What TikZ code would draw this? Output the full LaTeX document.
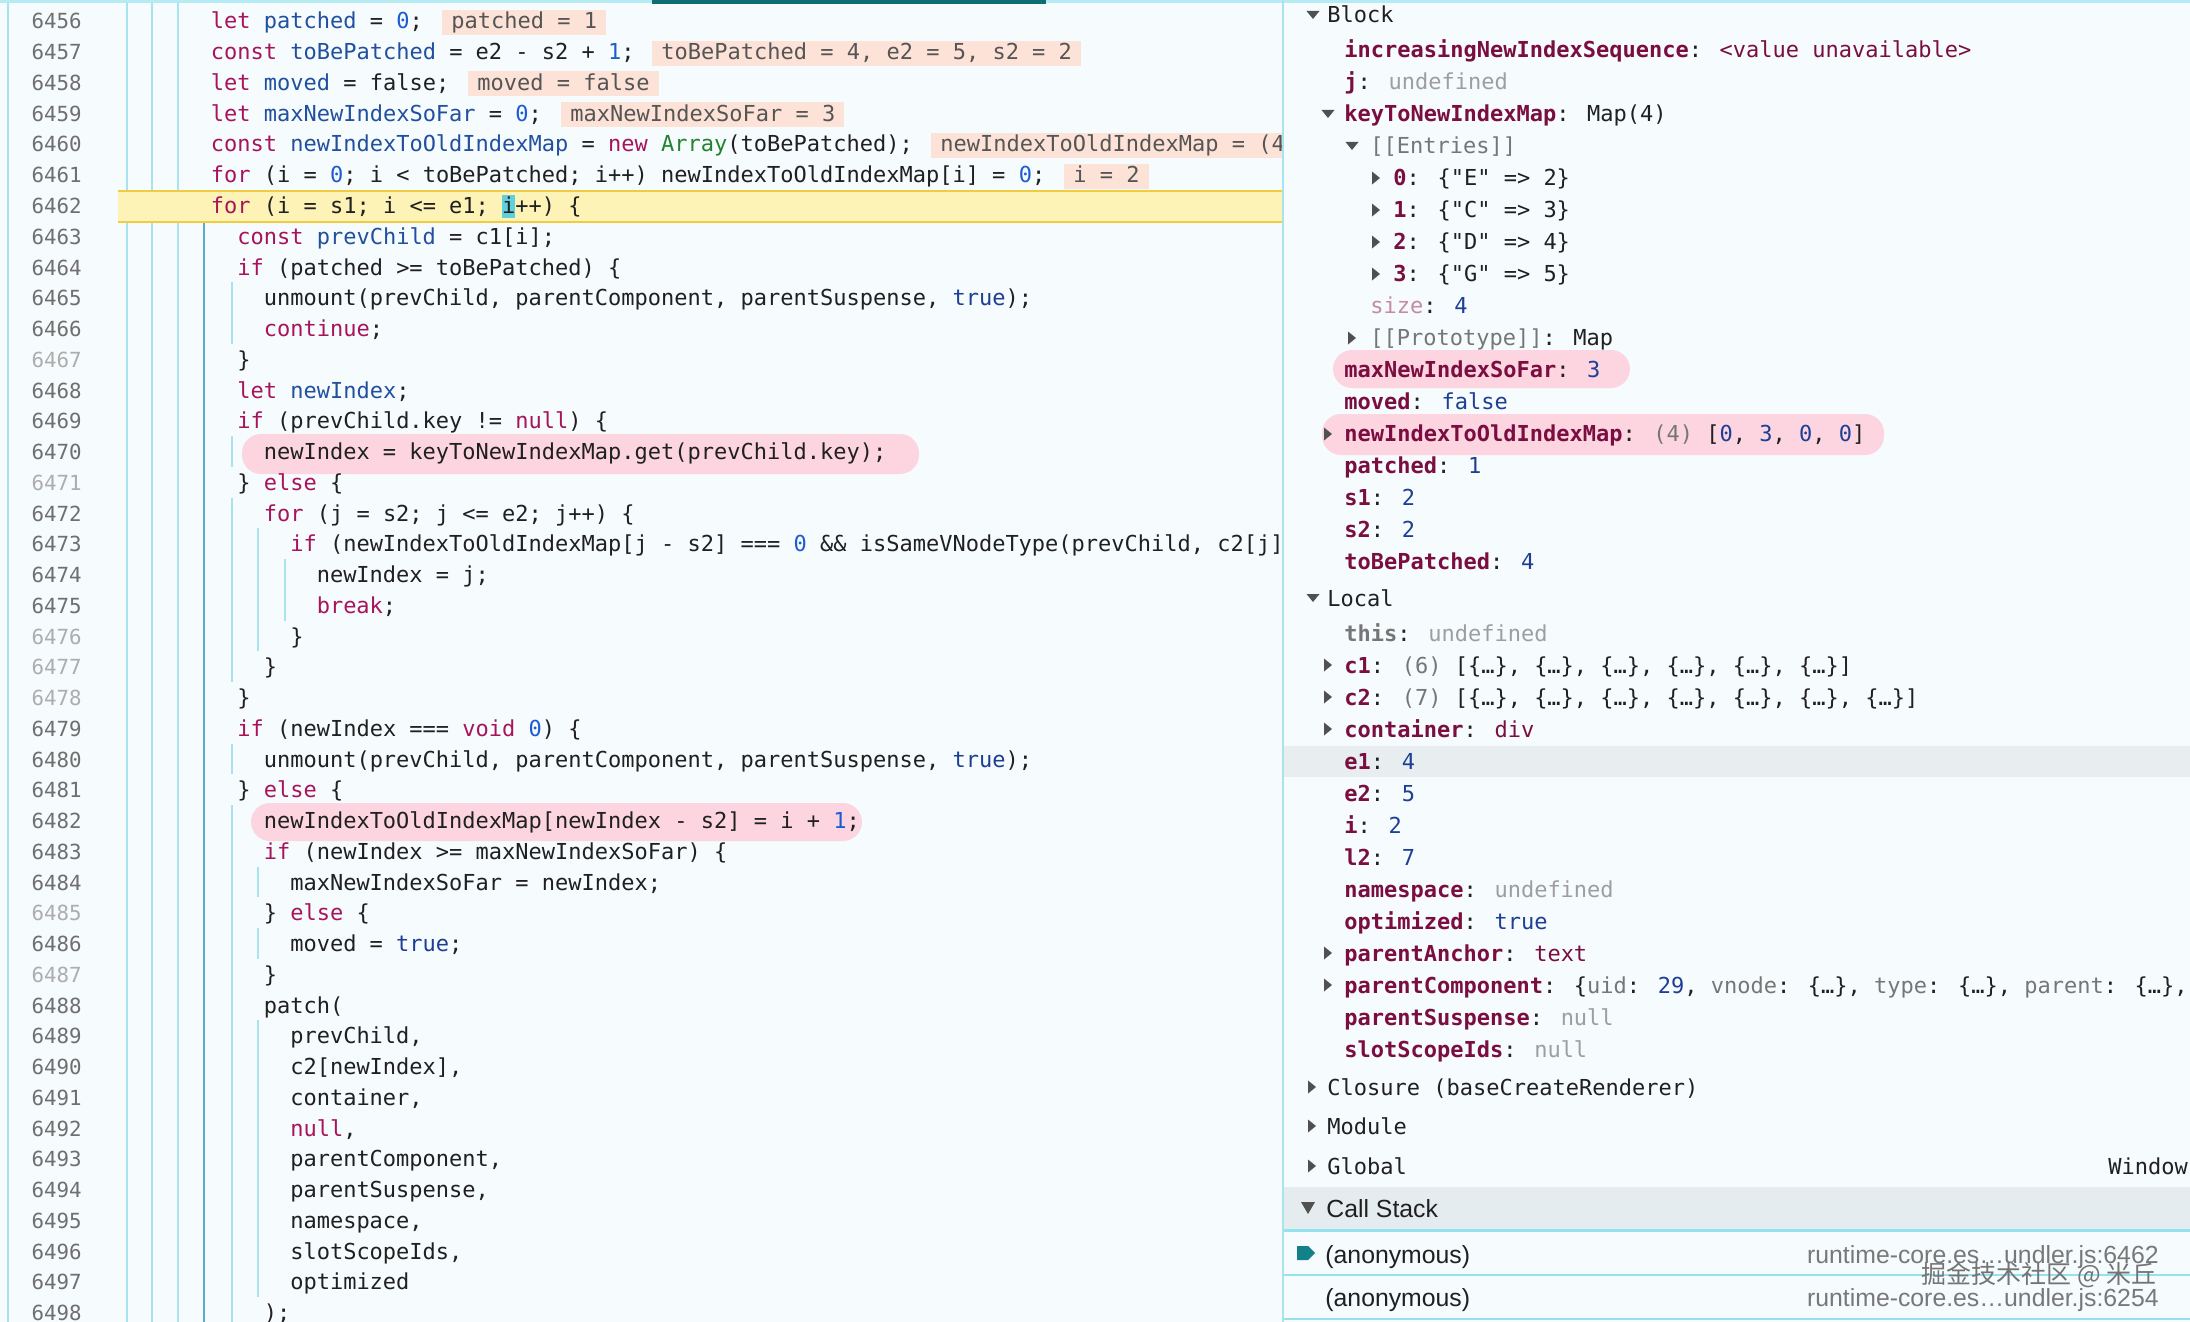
\documentclass[tikz,border=0pt]{standalone}
\usepackage{fontspec}
\setmainfont{Liberation Sans}
\newfontfamily\codefont{DejaVu Sans Mono}
\newfontfamily\cjkfont{Noto Sans CJK SC}

\definecolor{panelbg}{HTML}{F6FBFD}
\definecolor{guidecol}{HTML}{A9E4EE}
\definecolor{guideact}{HTML}{5AAFC4}
\definecolor{topcol}{HTML}{B5EBF3}
\definecolor{tabcol}{HTML}{0E6E72}
\definecolor{yelfill}{HTML}{FDF3B6}
\definecolor{yelline}{HTML}{EFCC40}
\definecolor{curcol}{HTML}{5FD0DC}
\definecolor{kwcol}{HTML}{A8145C}
\definecolor{defcol}{HTML}{20509E}
\definecolor{numcol}{HTML}{1C5BD3}
\definecolor{grncol}{HTML}{23832F}
\definecolor{trucol}{HTML}{1D3E93}
\definecolor{txtcol}{HTML}{202020}
\definecolor{lnumcol}{HTML}{6F6F6F}
\definecolor{lnumlt}{HTML}{ADADAD}
\definecolor{inlbg}{HTML}{FDE3D7}
\definecolor{inltxt}{HTML}{555555}
\definecolor{pinkhl}{HTML}{FCD5E1}
\definecolor{keycol}{HTML}{7A0E40}
\definecolor{valcol}{HTML}{1D3F95}
\definecolor{grycol}{HTML}{767676}
\definecolor{ltcol}{HTML}{9E9E9E}
\definecolor{sizecol}{HTML}{C48BA3}
\definecolor{tricol}{HTML}{505050}
\definecolor{rowgray}{HTML}{E8EEF0}
\definecolor{hdrgray}{HTML}{E5ECEF}
\definecolor{sepcol}{HTML}{94E2EC}
\definecolor{arrcol}{HTML}{13808A}
\definecolor{rtgray}{HTML}{787878}
\definecolor{wmgray}{HTML}{747474}

\newcommand\tkw[1]{\textcolor{kwcol}{#1}}
\newcommand\tdef[1]{\textcolor{defcol}{#1}}
\newcommand\tnum[1]{\textcolor{numcol}{#1}}
\newcommand\tgrn[1]{\textcolor{grncol}{#1}}
\newcommand\ttru[1]{\textcolor{trucol}{#1}}
\newcommand\rkey[1]{\textcolor{keycol}{\bfseries #1}}
\newcommand\rval[1]{\textcolor{valcol}{#1}}
\newcommand\rgry[1]{\textcolor{grycol}{#1}}
\newcommand\rlt[1]{\textcolor{ltcol}{#1}}
\newcommand\rmar[1]{\textcolor{keycol}{#1}}

\newcommand\codeline[4][lnumcol]{%
  \node[lnum,text=#1] (n#2) at (82,{29+30.75*(#2-6456)}) {#2};
  \node[code] (c#2) at ({131+13.24*#3},{29+30.75*(#2-6456)}) {#4};}
\newcommand\guide[3]{\draw[guidecol,line width=0.7pt] (#1,{5.6+30.75*(#2-6456)}) -- (#1,{36.4+30.75*(#3-6456)});}
\newcommand\tdown[2]{\fill[tricol] (#1-6.5,#2-4) -- (#1+6.5,#2-4) -- (#1,#2+4) -- cycle;}
\newcommand\tright[2]{\fill[tricol] (#1-4,#2-6.5) -- (#1+4,#2) -- (#1-4,#2+6.5) -- cycle;}

\begin{document}
\begin{tikzpicture}[x=0.5pt,y=-0.5pt,
  code/.style={anchor=base west,inner sep=0,font=\codefont\fontsize{11}{13}\selectfont,text=txtcol},
  lnum/.style={anchor=base east,inner sep=0,font=\codefont\fontsize{10.4}{12}\selectfont},
  inl/.style={anchor=base west,fill=inlbg,text=inltxt,inner xsep=4.5pt,inner ysep=0.4pt,text height=9.1pt,text depth=2.5pt,font=\codefont\fontsize{11}{13}\selectfont},
  sans/.style={anchor=base west,inner sep=0,font=\fontsize{12.4}{14}\selectfont,text=txtcol},
  pill/.style={fill=pinkhl,rounded corners=9.5pt}]
\useasboundingbox (0,0) rectangle (2190,1322);
\fill[panelbg] (0,0) rectangle (2190,1322);

\begin{scope}
\clip (0,0) rectangle (1282,1322);
\foreach \gx in {8,127,152,178}
  \draw[guidecol,line width=0.7pt] (\gx,0) -- (\gx,1322);
\draw[guideact,line width=0.9pt] (204,222) -- (204,1322);
\foreach \gx/\ga/\gb in {232/6465/6466,232/6470/6470,232/6472/6477,232/6480/6480,232/6482/6498,
  258/6473/6476,258/6484/6484,258/6486/6486,258/6489/6497,285/6474/6475}
  \guide{\gx}{\ga}{\gb}
\fill[yelfill] (118,191) rectangle (1282,222);
\draw[yelline,line width=1pt] (118,191) -- (1282,191) (118,222) -- (1282,222);
\fill[curcol] (501.5,195) rectangle (514.5,218);
\fill[pill] (242,434) rectangle (919,474);
\fill[pill] (251,803) rectangle (862,841);

\node[inl] (v6456) at (442,29) {patched = 1};
\node[inl] (v6457) at (652,59.75) {toBePatched = 4, e2 = 5, s2 = 2};
\node[inl] (v6458) at (468,90.5) {moved = false};
\node[inl] (v6459) at (561,121.25) {maxNewIndexSoFar = 3};
\node[inl] (v6460) at (931,152) {newIndexToOldIndexMap = (4};
\node[inl] (v6461) at (1064,182.75) {i = 2};

\codeline{6456}{6}{\tkw{let} \tdef{patched} = \tnum{0};}
\codeline{6457}{6}{\tkw{const} \tdef{toBePatched} = e2 - s2 + \tnum{1};}
\codeline{6458}{6}{\tkw{let} \tdef{moved} = false;}
\codeline{6459}{6}{\tkw{let} \tdef{maxNewIndexSoFar} = \tnum{0};}
\codeline{6460}{6}{\tkw{const} \tdef{newIndexToOldIndexMap} = \tkw{new} \tgrn{Array}(toBePatched);}
\codeline{6461}{6}{\tkw{for} (i = \tnum{0}; i < toBePatched; i++) newIndexToOldIndexMap[i] = \tnum{0};}
\codeline{6462}{6}{\tkw{for} (i = s1; i <= e1; i++) \{}
\codeline{6463}{8}{\tkw{const} \tdef{prevChild} = c1[i];}
\codeline{6464}{8}{\tkw{if} (patched >= toBePatched) \{}
\codeline{6465}{10}{unmount(prevChild, parentComponent, parentSuspense, \ttru{true});}
\codeline{6466}{10}{\tkw{continue};}
\codeline[lnumlt]{6467}{8}{\}}
\codeline{6468}{8}{\tkw{let} \tdef{newIndex};}
\codeline{6469}{8}{\tkw{if} (prevChild.key != \tkw{null}) \{}
\codeline{6470}{10}{newIndex = keyToNewIndexMap.get(prevChild.key);}
\codeline[lnumlt]{6471}{8}{\} \tkw{else} \{}
\codeline{6472}{10}{\tkw{for} (j = s2; j <= e2; j++) \{}
\codeline{6473}{12}{\tkw{if} (newIndexToOldIndexMap[j - s2] === \tnum{0} \&\& isSameVNodeType(prevChild, c2[j]}
\codeline{6474}{14}{newIndex = j;}
\codeline{6475}{14}{\tkw{break};}
\codeline[lnumlt]{6476}{12}{\}}
\codeline[lnumlt]{6477}{10}{\}}
\codeline[lnumlt]{6478}{8}{\}}
\codeline{6479}{8}{\tkw{if} (newIndex === \tkw{void} \tnum{0}) \{}
\codeline{6480}{10}{unmount(prevChild, parentComponent, parentSuspense, \ttru{true});}
\codeline{6481}{8}{\} \tkw{else} \{}
\codeline{6482}{10}{newIndexToOldIndexMap[newIndex - s2] = i + \tnum{1};}
\codeline{6483}{10}{\tkw{if} (newIndex >= maxNewIndexSoFar) \{}
\codeline{6484}{12}{maxNewIndexSoFar = newIndex;}
\codeline[lnumlt]{6485}{10}{\} \tkw{else} \{}
\codeline{6486}{12}{moved = \ttru{true};}
\codeline[lnumlt]{6487}{10}{\}}
\codeline{6488}{10}{patch(}
\codeline{6489}{12}{prevChild,}
\codeline{6490}{12}{c2[newIndex],}
\codeline{6491}{12}{container,}
\codeline{6492}{12}{\tkw{null},}
\codeline{6493}{12}{parentComponent,}
\codeline{6494}{12}{parentSuspense,}
\codeline{6495}{12}{namespace,}
\codeline{6496}{12}{slotScopeIds,}
\codeline{6497}{12}{optimized}
\codeline{6498}{10}{);}
\end{scope}

\fill[topcol] (0,0) rectangle (2190,3);
\fill[tabcol] (652,0) rectangle (1046,4);
\draw[guidecol,line width=1pt] (1283,0) -- (1283,1322);

\fill[pill] (1333,350) rectangle (1630,388);
\fill[pill] (1322,414) rectangle (1884,455);
\fill[rowgray] (1284,746) rectangle (2190,777);

\tdown{1313}{15}
\node[code] (blk) at (1327,22.5) {Block};
\node[code] (incseq) at (1344,57.7) {\rkey{increasingNewIndexSequence}: \rmar{<value unavailable>}};
\node[code] (jvar) at (1344,89.7) {\rkey{j}: \rlt{undefined}};
\tdown{1328}{114}
\node[code] (kmap) at (1344,121.7) {\rkey{keyToNewIndexMap}: Map(4)};
\tdown{1352}{146}
\node[code] (entries) at (1370,153.7) {\rgry{[[Entries]]}};
\tright{1376}{178}
\node[code] (ent0) at (1393,185.7) {\rkey{0}: \{"E" => 2\}};
\tright{1376}{210}
\node[code] (ent1) at (1393,217.7) {\rkey{1}: \{"C" => 3\}};
\tright{1376}{242}
\node[code] (ent2) at (1393,249.7) {\rkey{2}: \{"D" => 4\}};
\tright{1376}{274}
\node[code] (ent3) at (1393,281.7) {\rkey{3}: \{"G" => 5\}};
\node[code] (msize) at (1370,313.7) {\textcolor{sizecol}{size}: \rval{4}};
\tright{1352}{338}
\node[code] (proto) at (1370,345.7) {\rgry{[[Prototype]]}: Map};
\node[code] (maxv) at (1344,377.7) {\rkey{maxNewIndexSoFar}: \rval{3}};
\node[code] (moved) at (1344,409.7) {\rkey{moved}: \rval{false}};
\tright{1328}{434}
\node[code] (nmap) at (1344,441.7) {\rkey{newIndexToOldIndexMap}: \rgry{(4)} [\rval{0}, \rval{3}, \rval{0}, \rval{0}]};
\node[code] (patched) at (1344,473.7) {\rkey{patched}: \rval{1}};
\node[code] (sone) at (1344,505.7) {\rkey{s1}: \rval{2}};
\node[code] (stwo) at (1344,537.7) {\rkey{s2}: \rval{2}};
\node[code] (tobe) at (1344,569.7) {\rkey{toBePatched}: \rval{4}};

\tdown{1313}{598}
\node[code] (local) at (1327,606) {Local};
\node[code] (this) at (1344,641) {\rgry{\bfseries this}: \rlt{undefined}};
\tright{1328}{665}
\node[code] (cone) at (1344,673) {\rkey{c1}: \rgry{(6)} [\{…\}, \{…\}, \{…\}, \{…\}, \{…\}, \{…\}]};
\tright{1328}{697}
\node[code] (ctwo) at (1344,705) {\rkey{c2}: \rgry{(7)} [\{…\}, \{…\}, \{…\}, \{…\}, \{…\}, \{…\}, \{…\}]};
\tright{1328}{729}
\node[code] (cont) at (1344,737) {\rkey{container}: \rmar{div}};
\node[code] (eone) at (1344,769) {\rkey{e1}: \rval{4}};
\node[code] (etwo) at (1344,801) {\rkey{e2}: \rval{5}};
\node[code] (ivar) at (1344,833) {\rkey{i}: \rval{2}};
\node[code] (ltwo) at (1344,865) {\rkey{l2}: \rval{7}};
\node[code] (nspace) at (1344,897) {\rkey{namespace}: \rlt{undefined}};
\node[code] (optim) at (1344,929) {\rkey{optimized}: \rval{true}};
\tright{1328}{953}
\node[code] (panchor) at (1344,961) {\rkey{parentAnchor}: \rmar{text}};
\tright{1328}{985}
\node[code] (pcomp) at (1344,993) {\rkey{parentComponent}: \{\rgry{uid}: \rval{29}, \rgry{vnode}: \{…\}, \rgry{type}: \{…\}, \rgry{parent}: \{…\}, \rgry{a}};
\node[code] (psusp) at (1344,1025) {\rkey{parentSuspense}: \rlt{null}};
\node[code] (slots) at (1344,1057) {\rkey{slotScopeIds}: \rlt{null}};

\tright{1312}{1087}
\node[code] (closure) at (1327,1095) {Closure (baseCreateRenderer)};
\tright{1312}{1126}
\node[code] (module) at (1327,1134) {Module};
\tright{1312}{1166}
\node[code] (global) at (1327,1174) {Global};
\node[code] (win) at (2108,1174) {Window};

\fill[hdrgray] (1284,1187) rectangle (2190,1229);
\draw[sepcol,line width=1.5pt] (1284,1230) -- (2190,1230);
\draw[sepcol,line width=1pt] (1284,1275) -- (2190,1275) (1284,1319) -- (2190,1319);
\fill[tricol] (1301,1202) -- (1315,1202) -- (1308,1214) -- cycle;
\node[sans] (cstack) at (1326,1217) {Call Stack};
\fill[arrcol] (1297,1246) -- (1308,1246) -- (1315,1253) -- (1308,1260) -- (1297,1260) -- cycle;
\node[sans] (anon1) at (1325,1263) {(anonymous)};
\node[sans,anchor=base east,text=rtgray] (src1) at (2159,1263) {runtime-core.es…undler.js:6462};
\node[sans] (anon2) at (1325,1306) {(anonymous)};
\node[sans,anchor=base east,text=rtgray] (src2) at (2159,1306) {runtime-core.es…undler.js:6254};
\node[inner sep=0,text=wmgray,font=\cjkfont\fontsize{12.5}{14}\selectfont] (wm) at (2039,1275) {掘金技术社区 @ 米丘};
\end{tikzpicture}
\end{document}
